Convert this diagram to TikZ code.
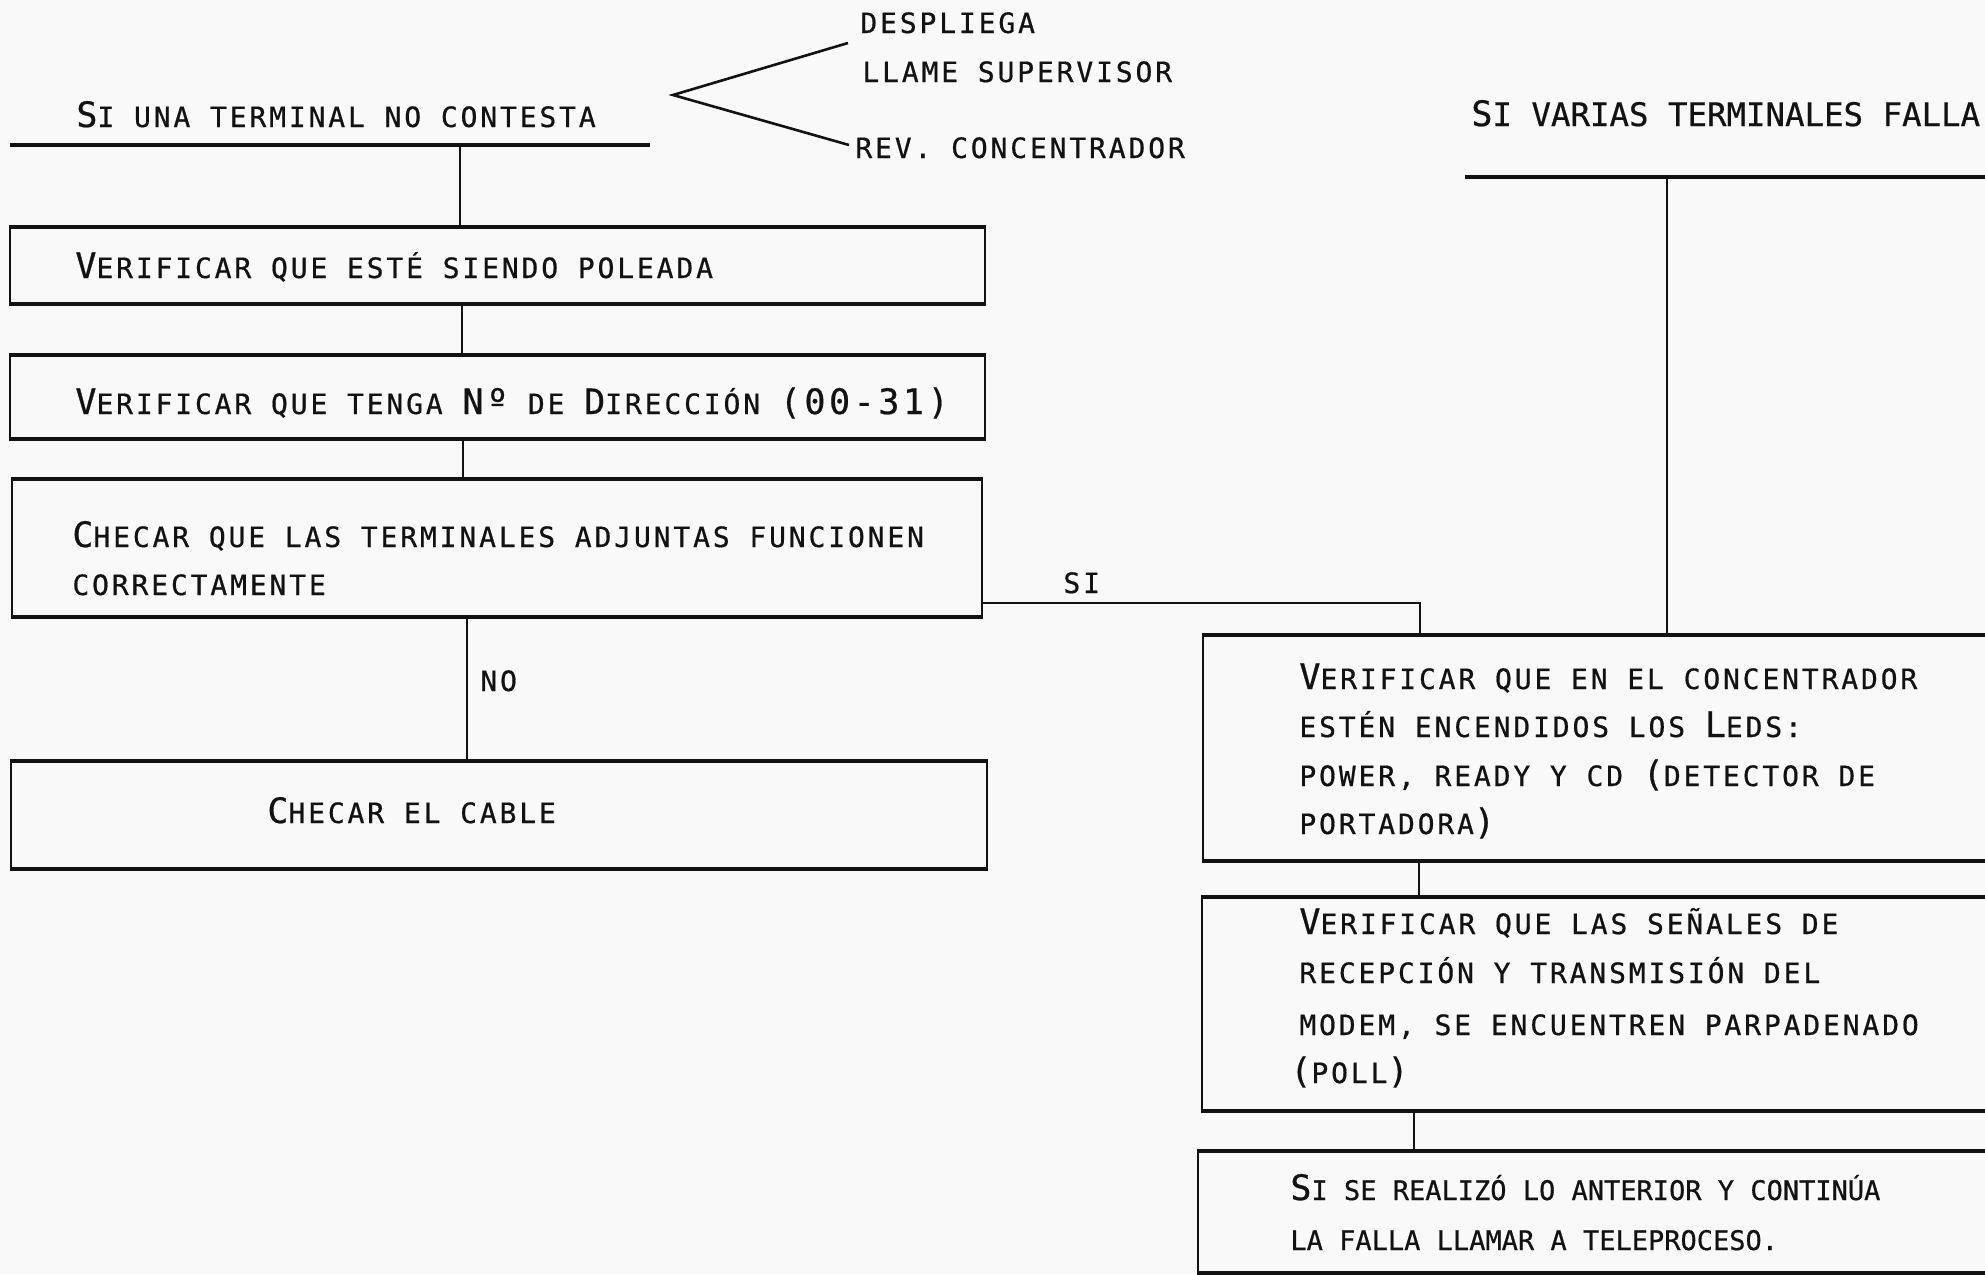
\documentclass[tikz,border=0pt]{standalone}
\usepackage{fontspec}
\usetikzlibrary{fit}
% typewriter faces: spaced small caps, a tighter one, and a plain heading one
\newfontfamily\tw[LetterSpace=10.2,FakeBold=0.6]{DejaVu Sans Mono}
\newfontfamily\twc[LetterSpace=0,FakeBold=0.6]{DejaVu Sans Mono}
\newfontfamily\twh[FakeBold=0.6]{DejaVu Sans Mono}
% full-size capital inside small-caps text
\newcommand\Bg[1]{{\fontsize{17.5pt}{19pt}\selectfont #1}}
\definecolor{ink}{gray}{0.07}
\definecolor{paper}{gray}{0.975}

\begin{document}
\begin{tikzpicture}[x=0.5pt,y=-0.5pt,
  txt/.style={anchor=base west, inner sep=0pt, text=ink, font=\tw\fontsize{14pt}{16pt}\selectfont},
  txtn/.style={txt, font=\twc\fontsize{13.5pt}{16pt}\selectfont},
  head/.style={txt, font=\twh\fontsize{16.2pt}{18pt}\selectfont},
  box/.style={draw=ink, line width=0.9pt, inner sep=0pt},
  hedge/.style={draw=ink, line width=1.7pt},
  conn/.style={draw=ink, line width=0.75pt},
  rule/.style={draw=ink, line width=2pt},
  wedge/.style={draw=ink, line width=1.3pt, line join=miter}]

\useasboundingbox (0,0) rectangle (1985,1274);
\clip (0,0) rectangle (1985,1274);
\fill[paper] (0,0) rectangle (1985,1274);

% ---- headings ----
\node[txt] (h1) at (76,127) {\Bg{S}I UNA TERMINAL NO CONTESTA};
\coordinate (u1a) at (10,145);
\coordinate (u1b) at (650,145);
\draw[rule] (u1a) -- (u1b);

\node[head] (h2) at (1471,126) {\Bg{S}I VARIAS TERMINALES FALLA};
\coordinate (u2a) at (1465,177);
\coordinate (u2b) at (2000,177);
\draw[rule] (u2a) -- (u2b);

% ---- options fan ----
\coordinate (wa) at (673,95);
\coordinate (wu) at (848,43);
\coordinate (wl) at (849,145);
\draw[wedge] (wu) -- (wa) -- (wl);
\node[txt] (d1) at (860,33) {DESPLIEGA};
\node[txt] (d2) at (862,82) {LLAME SUPERVISOR};
\node[txt] (d3) at (855,158) {REV. CONCENTRADOR};

% ---- left column boxes ----
\node[box, fit={(10,228) (985,303)}] (b1) {};
\node[box, fit={(10,356) (985,438)}] (b2) {};
\node[box, fit={(12,480) (982,616)}] (b3) {};
\node[box, fit={(11,762) (987,868)}] (b5) {};

% ---- right column boxes ----
\node[box, fit={(1203,636) (2010,860)}] (b4) {};
\node[box, fit={(1202,898) (2010,1110)}] (b6) {};
\node[box, fit={(1198,1152) (2010,1272)}] (b7) {};

\foreach \b in {b1,b2,b3,b5,b4,b6,b7}{
  \draw[hedge] (\b.north west) -- (\b.north east) (\b.south west) -- (\b.south east);
}

% ---- texts in boxes ----
\node[txt] (t1) at (75,278) {\Bg{V}ERIFICAR QUE ESTÉ SIENDO POLEADA};
\node[txt] (t2) at (75,414) {\Bg{V}ERIFICAR QUE TENGA \Bg{Nº} DE \Bg{D}IRECCIÓN \Bg{(00-31)}};
\node[txt] (t3a) at (72,547) {\Bg{C}HECAR QUE LAS TERMINALES ADJUNTAS FUNCIONEN};
\node[txt] (t3b) at (72,595) {CORRECTAMENTE};
\node[txt] (t5) at (267,823) {\Bg{C}HECAR EL CABLE};

\node[txt] (t4a) at (1299,689) {\Bg{V}ERIFICAR QUE EN EL CONCENTRADOR};
\node[txt] (t4b) at (1299,737) {ESTÉN ENCENDIDOS LOS \Bg{L}EDS:};
\node[txt] (t4c) at (1299,786) {POWER, READY Y CD \Bg{(}DETECTOR DE};
\node[txt] (t4d) at (1299,834) {PORTADORA\Bg{)}};

\node[txt] (t6a) at (1299,934) {\Bg{V}ERIFICAR QUE LAS SEÑALES DE};
\node[txt] (t6b) at (1299,983) {RECEPCIÓN Y TRANSMISIÓN DEL};
\node[txt] (t6c) at (1299,1035) {MODEM, SE ENCUENTREN PARPADENADO};
\node[txt] (t6d) at (1290,1083) {\Bg{(}POLL\Bg{)}};

\node[txtn] (t7a) at (1290,1200) {\Bg{S}I SE REALIZÓ LO ANTERIOR Y CONTINÚA};
\node[txtn] (t7b) at (1290,1250) {LA FALLA LLAMAR A TELEPROCESO.};

% ---- connectors ----
\coordinate (x0) at (460,145);
\coordinate (x1) at (462,0);
\coordinate (x2) at (463,0);
\coordinate (x3) at (467,0);
\draw[conn] (x0) -- (x0 |- b1.north);
\draw[conn] (b1.south -| x1) -- (b2.north -| x1);
\draw[conn] (b2.south -| x2) -- (b3.north -| x2);
\draw[conn] (b3.south -| x3) -- (b5.north -| x3);
\node[txt] (no) at (480,691) {NO};

\coordinate (sy) at (1420,603);
\draw[conn] (b3.east |- sy) -- (sy) -- (b4.north -| sy);
\node[txt] (si) at (1063,593) {SI};

\coordinate (r0) at (1667,177);
\coordinate (r1) at (1419,0);
\coordinate (r2) at (1414,0);
\draw[conn] (r0) -- (r0 |- b4.north);
\draw[conn] (b4.south -| r1) -- (b6.north -| r1);
\draw[conn] (b6.south -| r2) -- (b7.north -| r2);
\end{tikzpicture}
\end{document}
